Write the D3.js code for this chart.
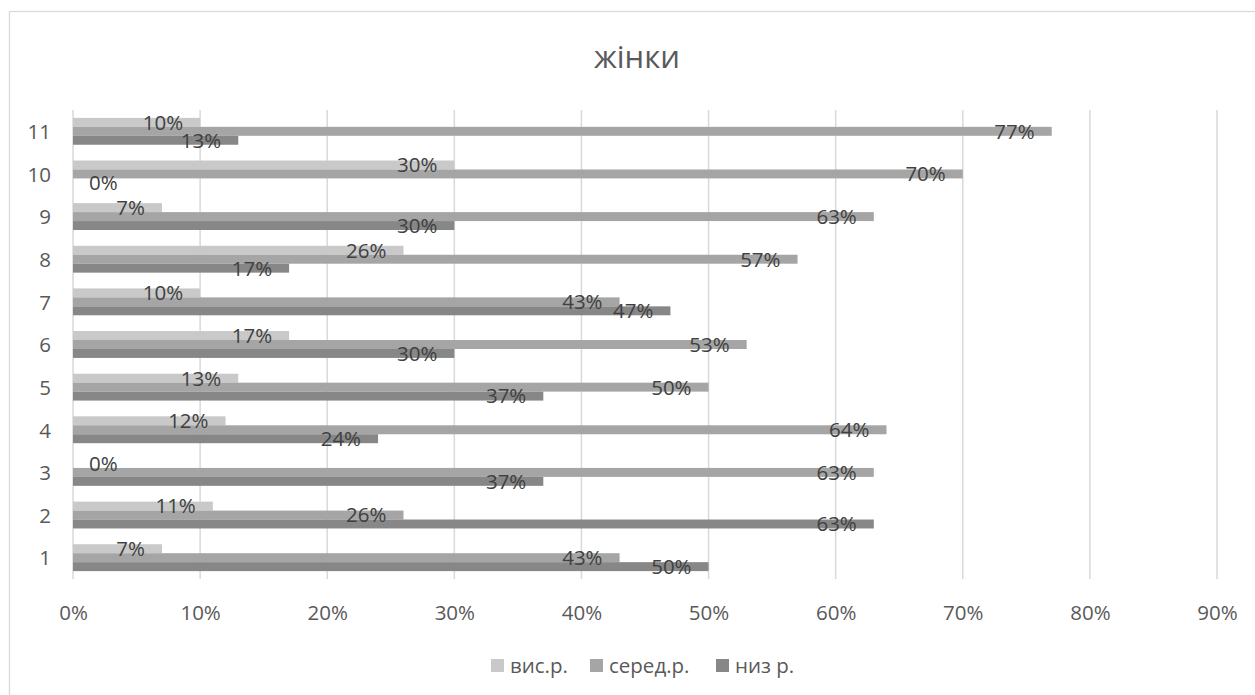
<!DOCTYPE html>
<html>
<head>
<meta charset="utf-8">
<script src="https://cdn.jsdelivr.net/npm/d3@7"></script>
<style>
  html, body { margin: 0; padding: 0; background: #fff; }
  svg { display: block; font-family: "Open Sans", "Noto Sans", sans-serif; }
</style>
</head>
<body>
<svg id="chart" width="1255" height="695"></svg>
<script>
// Categories (bottom to top) and the three series, in percent
const categories = ["1", "2", "3", "4", "5", "6", "7", "8", "9", "10", "11"];
const seriesNames = ["вис.р.", "серед.р.", "низ р."];
const visValues = [7, 11, 0, 12, 13, 17, 10, 26, 7, 30, 10];
const seredValues = [43, 26, 63, 64, 50, 53, 43, 57, 63, 70, 77];
const nyzValues = [50, 63, 37, 24, 37, 30, 47, 17, 30, 0, 13];
const xTicks = [0, 10, 20, 30, 40, 50, 60, 70, 80, 90];
const titleText = "жінки";

const colors = ["#c9c9c9", "#a5a5a5", "#878787"];
const seriesValues = [visValues, seredValues, nyzValues];

const svg = d3.select("#chart");

// Outer chart frame
svg.append("rect")
  .attr("x", 9.5).attr("y", 11.5)
  .attr("width", 1255).attr("height", 700)
  .attr("fill", "none").attr("stroke", "#d9d9d9").attr("stroke-width", 1.3);

const plot = { left: 73, right: 1217, top: 110, bottom: 579 };

const x = d3.scaleLinear().domain([0, 90]).range([plot.left, plot.right]);
const y = d3.scaleBand()
  .domain(categories.slice().reverse())
  .range([plot.top, plot.bottom])
  .paddingInner(0.37)
  .paddingOuter(0.185);
const ySub = d3.scaleBand().domain(d3.range(3)).range([0, y.bandwidth()]);

// Title
svg.append("text")
  .attr("x", 637).attr("y", 68)
  .attr("text-anchor", "middle")
  .attr("font-size", 31)
  .attr("fill", "#595959")
  .text(titleText);

// Vertical gridlines
svg.append("g")
  .selectAll("line")
  .data(xTicks)
  .join("line")
  .attr("x1", d => x(d)).attr("x2", d => x(d))
  .attr("y1", plot.top).attr("y2", plot.bottom)
  .attr("stroke", "#d9d9d9").attr("stroke-width", 1.5);

// X axis labels
const xAxis = d3.axisBottom(x).tickValues(xTicks).tickFormat(d => d + "%").tickSize(0).tickPadding(0);
const xg = svg.append("g").attr("transform", `translate(0,${plot.bottom})`).call(xAxis);
xg.select(".domain").remove();
xg.selectAll("text")
  .attr("y", 41).attr("dy", null)
  .attr("font-size", 20.5).attr("font-family", "Open Sans, sans-serif")
  .attr("fill", "#595959");

// Y axis labels
const yAxis = d3.axisLeft(y).tickSize(0).tickPadding(0);
const yg = svg.append("g").attr("transform", `translate(${plot.left},0)`).call(yAxis);
yg.select(".domain").remove();
yg.selectAll("text")
  .attr("x", -22).attr("dy", "0.38em")
  .attr("font-size", 20.5).attr("font-family", "Open Sans, sans-serif")
  .attr("fill", "#595959");

// Bars
const barData = [];
categories.forEach((c, i) => {
  seriesValues.forEach((vals, s) => barData.push({ cat: c, s, v: vals[i] }));
});

svg.append("g")
  .selectAll("rect")
  .data(barData)
  .join("rect")
  .attr("x", x(0))
  .attr("y", d => y(d.cat) + ySub(d.s))
  .attr("width", d => x(d.v) - x(0))
  .attr("height", ySub.bandwidth())
  .attr("fill", d => colors[d.s]);

// Data labels placed just inside the bar end; short bars get them past the axis
const labels = svg.append("g")
  .selectAll("text")
  .data(barData)
  .join("text")
  .attr("y", d => y(d.cat) + ySub(d.s) + ySub.bandwidth() / 2)
  .attr("dy", "0.36em")
  .attr("font-size", 20.5)
  .attr("fill", "#404040")
  .text(d => d.v + "%");

labels.each(function(d) {
  const w = this.getComputedTextLength();
  const right = x(d.v) - 17;
  if (right - w < x(0)) {
    d3.select(this).attr("x", x(0) + 16).attr("text-anchor", "start");
  } else {
    d3.select(this).attr("x", right).attr("text-anchor", "end");
  }
});

// Legend
const legendItems = [
  { name: seriesNames[0], color: colors[0], x: 491 },
  { name: seriesNames[1], color: colors[1], x: 590 },
  { name: seriesNames[2], color: colors[2], x: 716 }
];
const lg = svg.append("g");
legendItems.forEach(item => {
  lg.append("rect")
    .attr("x", item.x).attr("y", 659)
    .attr("width", 13).attr("height", 13)
    .attr("fill", item.color);
  lg.append("text")
    .attr("x", item.x + 19).attr("y", 665.5)
    .attr("dy", "0.36em")
    .attr("font-size", 20.5)
    .attr("fill", "#595959")
    .text(item.name);
});
</script>
</body>
</html>
